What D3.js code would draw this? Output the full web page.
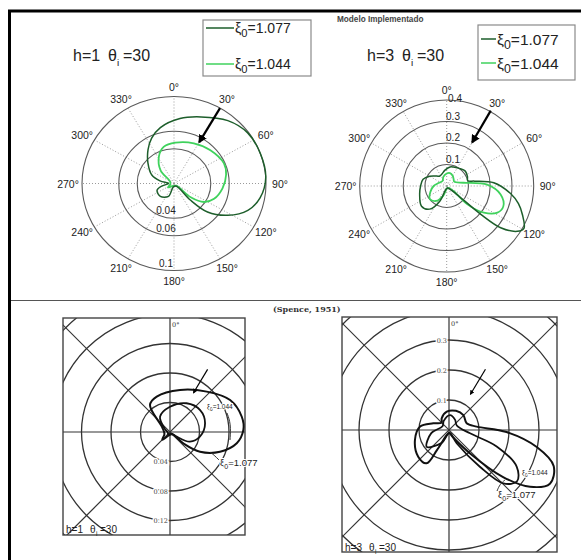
<!DOCTYPE html>
<meta charset="utf-8" />
<title>Modelo Implementado vs Spence 1951</title>
<script src="https://d3js.org/d3.v7.min.js"></script>
<style>
  body { margin: 0; background: #fff; }
  svg text { font-family: "Liberation Sans", Arial, sans-serif; }
</style>
<svg id="chart" width="581" height="560"></svg>
<script>
// ---- data (angle in degrees clockwise from top, radius) ----
var angleTicks = [0, 30, 60, 90, 120, 150, 180, 210, 240, 270, 300, 330];
var legendNames = ["1.077", "1.044"];

// model, h=1
var m1Rings = [0.04, 0.06, 0.1];
var m1_077_th = [281, 292, 310, 324, 335, 347, 5, 21, 39, 54, 70, 86, 100, 111, 122, 132, 137, 140, 190, 202, 225, 247, 258, 270];
var m1_077_r  = [0.0155, 0.026, 0.037, 0.048, 0.0575, 0.066, 0.075, 0.082, 0.093, 0.099, 0.100, 0.100, 0.095, 0.086, 0.069, 0.049, 0.026, 0.004, 0.004, 0.016, 0.021, 0.020, 0.013, 0.006];
var m1_044_th = [300, 316, 332, 345, 2, 25, 46, 67, 80, 96, 112, 123, 131, 135, 200, 235, 260];
var m1_044_r  = [0.005, 0.021, 0.035, 0.0435, 0.047, 0.051, 0.055, 0.059, 0.0575, 0.053, 0.047, 0.039, 0.024, 0.004, 0.003, 0.008, 0.004];

// model, h=3
var m3Rings = [0.1, 0.2, 0.3, 0.4];
var m3_077_th = [199, 204, 216, 231, 253, 270, 286, 300, 315, 326, 337, 355, 10, 19, 35, 51, 65, 76, 80, 86, 97, 104, 111, 119, 123, 128, 130, 130, 135, 165];
var m3_077_r  = [0.025, 0.076, 0.133, 0.149, 0.13, 0.12, 0.113, 0.09, 0.065, 0.056, 0.059, 0.075, 0.09, 0.0935, 0.1, 0.11, 0.105, 0.1, 0.13, 0.217, 0.297, 0.34, 0.373, 0.406, 0.387, 0.315, 0.203, 0.06, 0.02, 0.01];
var m3_044_th = [60, 79, 88, 99, 110, 118, 126, 132, 127, 150, 200, 215, 232, 250, 270, 290, 320, 340, 0, 14, 30, 45];
var m3_044_r  = [0.04, 0.079, 0.186, 0.251, 0.277, 0.264, 0.211, 0.126, 0.0385, 0.01, 0.05, 0.085, 0.098, 0.08, 0.06, 0.04, 0.03, 0.045, 0.058, 0.062, 0.055, 0.045];

// Spence 1951, h=1
var s1Rings = [0.04, 0.08, 0.12, 0.16, 0.2];
var s1Labels = ["0.04", "0.08", "0.12"];
var s1_077_th = [300, 323.5, 339.4, 13.4, 42.3, 62, 78, 88.4, 99.6, 111.5, 123.3, 130.4, 140, 200, 225, 250];
var s1_077_r  = [0.012, 0.0456, 0.0512, 0.0586, 0.074, 0.0923, 0.0995, 0.0995, 0.0918, 0.0729, 0.0487, 0.0237, 0.004, 0.005, 0.015, 0.008];
var s1_044_th = [300, 327, 0, 30, 54, 76, 99, 116, 125, 135, 220, 260];
var s1_044_r  = [0.008, 0.0248, 0.0343, 0.045, 0.0505, 0.049, 0.041, 0.030, 0.011, 0.003, 0.004, 0.003];

// Spence 1951, h=3
var s3Rings = [0.1, 0.2, 0.3, 0.4, 0.5];
var s3Labels = ["0.1", "0.2", "0.3"];
var s3_077_th = [205, 211, 214, 229, 254, 277, 293, 315, 328, 353, 20, 44, 69, 83, 92, 101, 109, 118, 125, 131, 138, 150, 180];
var s3_077_r  = [0.02, 0.078, 0.134, 0.136, 0.118, 0.097, 0.057, 0.035, 0.046, 0.0615, 0.068, 0.069, 0.063, 0.093, 0.192, 0.298, 0.369, 0.381, 0.33, 0.239, 0.105, 0.03, 0.01];
var s3_044_th = [60, 99, 109, 118.5, 127, 134.5, 140, 150, 170, 210, 233, 260, 300, 330, 4, 30];
var s3_044_r  = [0.03, 0.071, 0.168, 0.257, 0.284, 0.254, 0.16, 0.051, 0.01, 0.05, 0.093, 0.06, 0.025, 0.035, 0.05, 0.04];

var darkGreen  = "#1d5e2b";
var lightGreen = "#3fd25c";

var svg = d3.select("#chart");

// arrowhead marker
var defs = svg.append("defs");
defs.append("marker")
  .attr("id", "head")
  .attr("viewBox", "0 0 10 10")
  .attr("refX", 8).attr("refY", 5)
  .attr("markerWidth", 4).attr("markerHeight", 4)
  .attr("orient", "auto")
  .append("path").attr("d", "M0,0L10,5L0,10z").attr("fill", "#000");

function makePolar(cx, cy, rMax, rxPx, ryPx) {
  // returns a function (theta, r) -> [x, y], with 0deg up, clockwise
  var sx = d3.scaleLinear().domain([0, rMax]).range([0, rxPx]);
  var sy = d3.scaleLinear().domain([0, rMax]).range([0, ryPx]);
  var f = function(th, r) {
    var a = th * Math.PI / 180;
    return [cx + sx(r) * Math.sin(a), cy - sy(r) * Math.cos(a)];
  };
  f.sx = sx; f.sy = sy; f.cx = cx; f.cy = cy;
  return f;
}

var closedLine = d3.line().curve(d3.curveCatmullRomClosed.alpha(0.5));

function drawCurve(g, P, th, r, color, width) {
  var pts = th.map(function(t, i) { return P(t, r[i]); });
  g.append("path")
    .attr("d", closedLine(pts))
    .attr("fill", "none")
    .attr("stroke", color)
    .attr("stroke-width", width)
    .attr("stroke-linejoin", "round");
}

function drawArrow(g, P, th, r0, r1, width) {
  var a = P(th, r0), b = P(th, r1);
  g.append("line")
    .attr("x1", a[0]).attr("y1", a[1]).attr("x2", b[0]).attr("y2", b[1])
    .attr("stroke", "#000").attr("stroke-width", width)
    .attr("marker-end", "url(#head)");
}

// ---------- frame ----------
svg.append("line").attr("x1", 8).attr("x2", 581).attr("y1", 11).attr("y2", 11)
  .attr("stroke", "#000").attr("stroke-width", 3);
svg.append("line").attr("x1", 9.5).attr("x2", 9.5).attr("y1", 10).attr("y2", 560)
  .attr("stroke", "#000").attr("stroke-width", 3);
svg.append("line").attr("x1", 11).attr("x2", 581).attr("y1", 300.5).attr("y2", 300.5)
  .attr("stroke", "#555").attr("stroke-width", 1);

// ---------- model (matlab-like polar) ----------
function modelPlot(P, rMax, rings, ringLabels, ringLabelFn) {
  var g = svg.append("g");
  // spokes
  angleTicks.forEach(function(t) {
    var p = P(t, rMax);
    g.append("line")
      .attr("x1", P.cx).attr("y1", P.cy).attr("x2", p[0]).attr("y2", p[1])
      .attr("stroke", "#9a9a9a").attr("stroke-width", 1)
      .attr("stroke-dasharray", "1,2");
  });
  // rings
  rings.forEach(function(v) {
    g.append("ellipse")
      .attr("cx", P.cx).attr("cy", P.cy)
      .attr("rx", P.sx(v)).attr("ry", P.sy(v))
      .attr("fill", "none").attr("stroke", "#5a5a5a").attr("stroke-width", 1.1);
  });
  // angle labels
  angleTicks.forEach(function(t) {
    var a = t * Math.PI / 180;
    g.append("text")
      .attr("x", P.cx + (P.sx(rMax) + 14) * Math.sin(a))
      .attr("y", P.cy - (P.sy(rMax) + 10) * Math.cos(a) + 4)
      .attr("text-anchor", "middle")
      .attr("font-size", 10.5).attr("fill", "#222")
      .text(t + "\u00b0");
  });
  // ring labels
  rings.forEach(function(v, i) {
    var pos = ringLabelFn(v, i);
    g.append("text")
      .attr("x", pos[0]).attr("y", pos[1])
      .attr("text-anchor", "middle")
      .attr("font-size", 10).attr("fill", "#222")
      .text(ringLabels[i]);
  });
  return g;
}

function legend(x, y, w, h, lineLen, fs, first, gap) {
  var g = svg.append("g");
  g.append("rect").attr("x", x).attr("y", y).attr("width", w).attr("height", h)
    .attr("fill", "#fff").attr("stroke", "#8a8a8a").attr("stroke-width", 1.2);
  [darkGreen, lightGreen].forEach(function(c, i) {
    var ly = y + first + i * gap;
    g.append("line").attr("x1", x + 3).attr("x2", x + 3 + lineLen)
      .attr("y1", ly).attr("y2", ly).attr("stroke", c).attr("stroke-width", 1.5);
    var t = g.append("text").attr("x", x + 4 + lineLen).attr("y", ly + fs * 0.36)
      .attr("font-size", fs).attr("fill", "#222");
    t.append("tspan").text("\u03be");
    t.append("tspan").attr("dy", fs * 0.3).attr("font-size", fs * 0.8).text("0");
    t.append("tspan").attr("dy", -fs * 0.3).text("=" + legendNames[i]);
  });
}

function title(x, y, h, fs) {
  var g = svg.append("g").attr("fill", "#222");
  g.append("text").attr("x", x).attr("y", y).attr("font-size", fs).text("h=" + h);
  g.append("text").attr("x", x + 35).attr("y", y).attr("font-size", fs).text("\u03b8");
  g.append("text").attr("x", x + 44).attr("y", y + 5).attr("font-size", fs * 0.62).text("i");
  g.append("text").attr("x", x + 50).attr("y", y).attr("font-size", fs).text("=30");
}

// h=1 model
var P1 = makePolar(174, 183.5, 0.1, 92, 87);
var g1 = modelPlot(P1, 0.1, m1Rings, ["0.04", "0.06", "0.1"], function(v) {
  return [166, P1.cy + P1.sy(v) - 4];
});
drawCurve(g1, P1, m1_044_th, m1_044_r, lightGreen, 1.8);
drawCurve(g1, P1, m1_077_th, m1_077_r, darkGreen, 1.5);
drawArrow(g1, P1, 30, 0.1, 0.055, 2.2);
title(73, 61, 1, 16);
legend(203, 20, 108, 56, 28, 14, 8, 36);

// h=3 model
var P3 = makePolar(446.7, 186, 0.4, 87, 86);
var g3 = modelPlot(P3, 0.4, m3Rings, ["0.1", "0.2", "0.3", "0.4"], function(v, i) {
  return i === 3 ? [455, P3.cy - P3.sy(v) + 2] : [453, P3.cy - P3.sy(v) - 2];
});
drawCurve(g3, P3, m3_044_th, m3_044_r, lightGreen, 1.8);
drawCurve(g3, P3, m3_077_th, m3_077_r, darkGreen, 1.5);
drawArrow(g3, P3, 30, 0.405, 0.235, 2.2);
title(367, 61, 3, 16);
legend(478, 25, 97, 55, 15, 15.5, 14, 24);

svg.append("text").attr("x", 337).attr("y", 22)
  .attr("font-family", "DejaVu Sans").attr("font-weight", "bold")
  .attr("font-size", 8.2).attr("fill", "#444").text("Modelo Implementado");

// ---------- Spence (scanned) ----------
svg.append("text").attr("x", 273).attr("y", 312)
  .style("font-family", "DejaVu Serif").attr("font-weight", "bold")
  .attr("font-size", 8).attr("fill", "#333").text("(Spence, 1951)");

function spencePlot(id, box, P, rings, labels, below) {
  var g = svg.append("g");
  defs.append("clipPath").attr("id", id)
    .append("rect").attr("x", box[0]).attr("y", box[1]).attr("width", box[2]).attr("height", box[3]);
  var gc = g.append("g").attr("clip-path", "url(#" + id + ")");
  rings.forEach(function(v) {
    gc.append("ellipse").attr("cx", P.cx).attr("cy", P.cy)
      .attr("rx", P.sx(v)).attr("ry", P.sy(v))
      .attr("fill", "none").attr("stroke", "#333").attr("stroke-width", 1.3);
  });
  [0, 45, 90, 135].forEach(function(t) {
    var a = P(t, 1), b = P(t + 180, 1);
    gc.append("line").attr("x1", a[0]).attr("y1", a[1]).attr("x2", b[0]).attr("y2", b[1])
      .attr("stroke", "#333").attr("stroke-width", 1.2);
  });
  g.append("rect").attr("x", box[0]).attr("y", box[1]).attr("width", box[2]).attr("height", box[3])
    .attr("fill", "none").attr("stroke", "#444").attr("stroke-width", 1.4);
  g.append("text").attr("x", P.cx + 2).attr("y", box[1] + 9)
    .style("font-family", "DejaVu Serif").attr("font-size", 6.5).attr("fill", "#333").text("0\u00b0");
  labels.forEach(function(l, i) {
    var y = below ? P.cy + P.sy(rings[i]) + 2.5 : P.cy - P.sy(rings[i]) + 2.5;
    g.append("text").attr("x", P.cx - 2).attr("y", y)
      .attr("text-anchor", "end")
      .attr("stroke", "#fff").attr("stroke-width", 3).attr("paint-order", "stroke")
      .style("font-family", "DejaVu Serif").attr("font-size", 6.5).attr("fill", "#444").text(l);
  });
  return g;
}

function smallTitle(x, y, h) {
  var g = svg.append("g").attr("fill", "#222");
  g.append("text").attr("x", x).attr("y", y).attr("font-size", 10).text("h=" + h);
  g.append("text").attr("x", x + 24).attr("y", y).attr("font-size", 10).text("\u03b8");
  g.append("text").attr("x", x + 30).attr("y", y + 3).attr("font-size", 6.5).text("i");
  g.append("text").attr("x", x + 34).attr("y", y).attr("font-size", 10).text("=30");
}

function xiLabel(g, x, y, fs, val) {
  var t = g.append("text").attr("x", x).attr("y", y).attr("font-size", fs).attr("fill", "#222")
    .attr("stroke", "#fff").attr("stroke-width", 2).attr("paint-order", "stroke");
  t.append("tspan").text("\u03be");
  t.append("tspan").attr("dy", fs * 0.3).attr("font-size", fs * 0.75).text("0");
  t.append("tspan").attr("dy", -fs * 0.3).text("=" + val);
}

function leader(g, pts) {
  g.append("path").attr("d", d3.line().curve(d3.curveBasis)(pts))
    .attr("fill", "none").attr("stroke", "#333").attr("stroke-width", 1);
}

// h=1 Spence
var S1 = makePolar(170, 432, 0.04, 29.5, 29.5);
var gs1 = spencePlot("clip1", [63, 318, 182, 217], S1, s1Rings, s1Labels, true);
drawCurve(gs1, S1, s1_044_th, s1_044_r, "#111", 1.8);
drawCurve(gs1, S1, s1_077_th, s1_077_r, "#111", 2);
drawArrow(gs1, S1, 31, 0.099, 0.062, 1.2);
xiLabel(gs1, 207, 409, 6.5, "1.044");
xiLabel(gs1, 220, 466, 9.5, "1.077");
leader(gs1, [[227, 413], [231, 424], [230, 440]]);
leader(gs1, [[219, 460], [214, 455], [210, 452]]);
smallTitle(66, 533, 1);

// h=3 Spence
var S3 = makePolar(449, 430, 0.1, 30, 30);
var gs3 = spencePlot("clip3", [342, 317, 215, 235], S3, s3Rings, s3Labels, false);
drawCurve(gs3, S3, s3_044_th, s3_044_r, "#111", 1.8);
drawCurve(gs3, S3, s3_077_th, s3_077_r, "#111", 2);
drawArrow(gs3, S3, 31, 0.236, 0.139, 1.2);
xiLabel(gs3, 522, 475, 6.5, "1.044");
xiLabel(gs3, 498, 498, 9.5, "1.077");
leader(gs3, [[497, 491], [500, 484], [505, 480]]);
smallTitle(345, 551, 3);
</script>
